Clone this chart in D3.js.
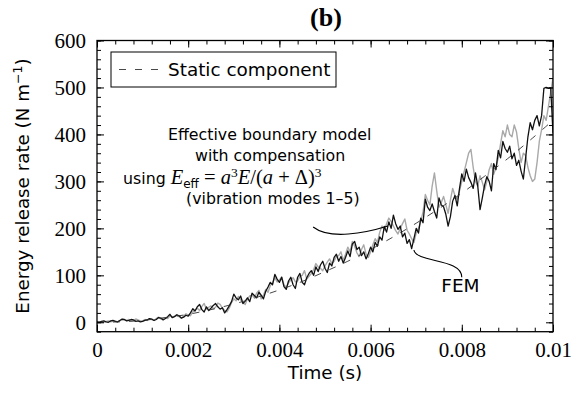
<!DOCTYPE html>
<html><head><meta charset="utf-8">
<script src="https://cdn.jsdelivr.net/npm/d3@7"></script>
<style>body{margin:0;background:#fff;} svg{display:block;}</style>
</head><body>
<svg id="chart" width="583" height="396"></svg>
<script>
// ---------------- data ----------------
const time = [
0,0.00005,0.0001,0.00015,0.0002,0.00025,0.0003,0.00035,0.0004,0.00045,
0.0005,0.00055,0.0006,0.00065,0.0007,0.00075,0.0008,0.00085,0.0009,0.00095,
0.001,0.00105,0.0011,0.00115,0.0012,0.00125,0.0013,0.00135,0.0014,0.00145,
0.0015,0.00155,0.0016,0.00165,0.0017,0.00175,0.0018,0.00185,0.0019,0.00195,
0.002,0.00205,0.0021,0.00215,0.0022,0.00225,0.0023,0.00235,0.0024,0.00245,
0.0025,0.00255,0.0026,0.00265,0.0027,0.00275,0.0028,0.00285,0.0029,0.00295,
0.003,0.00305,0.0031,0.00315,0.0032,0.00325,0.0033,0.00335,0.0034,0.00345,
0.0035,0.00355,0.0036,0.00365,0.0037,0.00375,0.0038,0.00385,0.0039,0.00395,
0.004,0.00405,0.0041,0.00415,0.0042,0.00425,0.0043,0.00435,0.0044,0.00445,
0.0045,0.00455,0.0046,0.00465,0.0047,0.00475,0.0048,0.00485,0.0049,0.00495,
0.005,0.00505,0.0051,0.00515,0.0052,0.00525,0.0053,0.00535,0.0054,0.00545,
0.0055,0.00555,0.0056,0.00565,0.0057,0.00575,0.0058,0.00585,0.0059,0.00595,
0.006,0.00605,0.0061,0.00615,0.0062,0.00625,0.0063,0.00635,0.0064,0.00645,
0.0065,0.00655,0.0066,0.00665,0.0067,0.00675,0.0068,0.00685,0.0069,0.00695,
0.007,0.00705,0.0071,0.00715,0.0072,0.00725,0.0073,0.00735,0.0074,0.00745,
0.0075,0.00755,0.0076,0.00765,0.0077,0.00775,0.0078,0.00785,0.0079,0.00795,
0.008,0.00805,0.0081,0.00815,0.0082,0.00825,0.0083,0.00835,0.0084,0.00845,
0.0085,0.00855,0.0086,0.00865,0.0087,0.00875,0.0088,0.00885,0.0089,0.00895,
0.009,0.00905,0.0091,0.00915,0.0092,0.00925,0.0093,0.00935,0.0094,0.00945,
0.0095,0.00955,0.0096,0.00965,0.0097,0.00975,0.0098,0.00985,0.0099,0.00995,
0.01];

// FEM (black)
const femValues = [
1,0,2,3,1,0,3,4,2,1, 4,7,6,3,4,6,5,2,3,1,
2,4,5,8,7,4,6,10,9,5, 8,12,17,10,12,16,14,9,11,15,
13,20,29,24,33,38,27,22,33,25, 30,36,40,33,28,31,20,27,35,44,
60,52,48,56,40,45,52,44,62,57, 52,64,58,50,66,75,85,80,102,92,
85,96,76,70,88,96,80,72,96,104, 85,80,95,104,110,100,118,108,122,130,
115,106,126,120,138,145,130,140,126,138, 152,140,167,172,155,160,142,150,135,146,
160,150,170,162,182,175,204,192,214,200, 228,210,198,205,182,190,168,176,157,178,
200,190,222,212,262,245,238,252,236,222, 265,250,246,230,205,225,258,270,248,285,
316,300,326,308,298,285,318,290,240,265, 292,310,300,280,338,325,366,350,385,370,
362,375,348,360,334,345,322,305,350,395, 425,410,430,440,418,440,498,500,498,499,
402];

// Effective boundary model with compensation (grey)
const modelValues = [
0,1,1,0,2,3,1,2,3,1, 3,5,5,4,6,3,4,7,5,3,
3,6,4,7,6,4,8,11,7,9, 10,8,14,11,13,16,12,9,13,18,
16,14,22,26,30,25,34,40,28,32, 35,29,32,41,38,30,25,22,30,42,
50,46,55,48,42,38,50,56,58,52, 62,68,50,58,70,64,78,84,95,86,
90,96,80,74,84,90,95,86,88,98, 100,110,92,98,104,112,125,118,115,110,
120,128,135,125,130,140,142,150,132,145, 160,150,172,162,148,140,155,165,145,138,
150,165,178,170,192,205,196,210,222,215, 205,195,188,200,210,220,196,188,178,170,
190,200,215,235,272,260,250,290,318,280, 245,255,268,250,232,260,285,270,262,280,
300,320,340,360,368,330,300,290,312,298, 282,300,325,338,315,330,350,380,408,395,
420,400,395,420,405,370,340,360,355,330, 312,300,305,340,385,410,440,430,460,490,
520];

// Static component (dashed)
const staticTime = [0,0.0005,0.001,0.0015,0.002,0.0025,0.003,0.0035,0.004,0.0045,
0.005,0.0055,0.006,0.0065,0.007,0.0075,0.008,0.0085,0.009,0.0095,0.01];
const staticValues = [0,1,4,10,17,27,39,53,69,87,108,130,155,182,211,242,275,311,348,388,430];

const xTicks = [0,0.002,0.004,0.006,0.008,0.01];
const xTickLabels = ["0","0.002","0.004","0.006","0.008","0.01"];
const yTicks = [0,100,200,300,400,500,600];
const yTickLabels = ["0","100","200","300","400","500","600"];

// annotation leader anchors (data units)
const leaderModel = [[0.00474,203],[0.00511,175],[0.00588,190],[0.00638,205]];
const leaderFem = [[0.00695,154],[0.0070,126],[0.0080,137],[0.0080,96]];

// ---------------- drawing ----------------
const svg = d3.select("#chart");
const sans = "'DejaVu Sans', sans-serif";
const serif = "'Liberation Serif', 'Times New Roman', serif";

const x = d3.scaleLinear().domain([0, 0.01]).range([97, 553]);
const y = d3.scaleLinear().domain([-20, 600]).range([331.7, 40.5]);

svg.append("rect").attr("width",583).attr("height",396).attr("fill","#fff");

svg.append("defs").append("clipPath").attr("id","clip")
  .append("rect").attr("x",97).attr("y",40.5).attr("width",456).attr("height",291.2);

const plot = svg.append("g").attr("clip-path","url(#clip)");
const line = d3.line().x(d => x(d[0])).y(d => y(d[1]));

plot.append("path")
  .datum(time.map((t,i)=>[t, modelValues[i]]))
  .attr("d", line).attr("fill","none").attr("stroke","#a9a9a9")
  .attr("stroke-width",1.4).attr("stroke-linejoin","round");

plot.append("path")
  .datum(time.map((t,i)=>[t, femValues[i]]))
  .attr("d", line).attr("fill","none").attr("stroke","#111")
  .attr("stroke-width",1.3).attr("stroke-linejoin","round");

plot.append("path")
  .datum(staticTime.map((t,i)=>[t, staticValues[i]]))
  .attr("d", line.curve(d3.curveCatmullRom)).attr("fill","none").attr("stroke","#333")
  .attr("stroke-width",0.9).attr("stroke-dasharray","7,9");

// axes (ticks inward on all four sides)
const minorX = d3.range(0, 0.01 + 1e-9, 0.0004);
const minorY = d3.range(-20, 600 + 1e-9, 20);

function addAxis(gen, tr, vals, size, fmt, pad) {
  const g = svg.append("g").attr("transform", tr)
    .call(gen.tickValues(vals).tickSizeInner(size).tickSizeOuter(0).tickPadding(pad||3).tickFormat(fmt || (()=>"")));
  g.select(".domain").remove();
  g.selectAll(".tick line").attr("stroke","#000").attr("stroke-width",1);
  return g;
}
addAxis(d3.axisBottom(x), "translate(0,331.7)", minorX, -4);
addAxis(d3.axisTop(x), "translate(0,40.5)", minorX, -4);
addAxis(d3.axisLeft(y), "translate(97,0)", minorY, -4);
addAxis(d3.axisRight(y), "translate(553,0)", minorY, -4);

const gxb = addAxis(d3.axisBottom(x), "translate(0,331.7)", xTicks, -7, (d,i)=>xTickLabels[i], 10);
addAxis(d3.axisTop(x), "translate(0,40.5)", xTicks, -7);
const gyl = addAxis(d3.axisLeft(y), "translate(97,0)", yTicks, -7, (d,i)=>yTickLabels[i], 11);
addAxis(d3.axisRight(y), "translate(553,0)", yTicks, -7);
[gxb, gyl].forEach(g => g.selectAll("text").attr("font-family", serif).attr("font-size", 21).attr("fill","#000"));

// frame
svg.append("rect").attr("x",97).attr("y",40.5).attr("width",456).attr("height",291.2)
  .attr("fill","none").attr("stroke","#000").attr("stroke-width",1.3);

// title
svg.append("text").attr("x",326).attr("y",26).attr("text-anchor","middle")
  .attr("font-family",serif).attr("font-weight","bold").attr("font-size",26).text("(b)");

// axis titles
svg.append("text").attr("x",325).attr("y",379).attr("text-anchor","middle")
  .attr("font-family",sans).attr("font-size",18.3).text("Time (s)");

const yl = svg.append("text").attr("transform","translate(29,186) rotate(-90)")
  .attr("text-anchor","middle").attr("font-family",sans).attr("font-size",18.3);
yl.append("tspan").text("Energy release rate (N m");
yl.append("tspan").attr("font-size",12.5).attr("dy",-7).text("\u22121");
yl.append("tspan").attr("dy",7).text(")");

// legend
svg.append("rect").attr("x",111).attr("y",52).attr("width",225).attr("height",35)
  .attr("fill","#fff").attr("stroke","#000").attr("stroke-width",1);
svg.append("line").attr("x1",119).attr("x2",158).attr("y1",69.5).attr("y2",69.5)
  .attr("stroke","#333").attr("stroke-width",0.9).attr("stroke-dasharray","7,9");
svg.append("text").attr("x",168).attr("y",76).attr("font-family",sans).attr("font-size",18.4)
  .text("Static component");

// annotation text
const ann = svg.append("g").attr("font-family",sans).attr("font-size",15.8).attr("fill","#000");
ann.append("text").attr("x",168).attr("y",139.5).text("Effective boundary model");
ann.append("text").attr("x",195).attr("y",160.5).text("with compensation");
const m = ann.append("text").attr("x",123).attr("y",184);
const mf = 20.5, sf = 13.5;
m.append("tspan").text("using ");
m.append("tspan").attr("font-family",serif).attr("font-style","italic").attr("font-size",mf).text("E");
m.append("tspan").attr("font-size",12).attr("dy",3.5).text("eff");
m.append("tspan").attr("font-family",serif).attr("font-size",mf).attr("dy",-3.5).text(" = ");
m.append("tspan").attr("font-family",serif).attr("font-style","italic").attr("font-size",mf).text("a");
m.append("tspan").attr("font-family",serif).attr("font-size",sf).attr("dy",-7).text("3");
m.append("tspan").attr("font-family",serif).attr("font-style","italic").attr("font-size",mf).attr("dy",7).text("E");
m.append("tspan").attr("font-family",serif).attr("font-size",mf).text("/(");
m.append("tspan").attr("font-family",serif).attr("font-style","italic").attr("font-size",mf).text("a");
m.append("tspan").attr("font-family",serif).attr("font-size",mf).text(" + \u0394)");
m.append("tspan").attr("font-family",serif).attr("font-size",sf).attr("dy",-7).text("3");
ann.append("text").attr("x",186).attr("y",204).text("(vibration modes 1\u20135)");

// leader curves
function bez(p) {
  const q = p.map(d => [x(d[0]), y(d[1])]);
  return `M${q[0]}C${q[1]} ${q[2]} ${q[3]}`;
}
svg.append("path").attr("d", bez(leaderModel)).attr("fill","none").attr("stroke","#000").attr("stroke-width",1.1);
svg.append("path").attr("d", bez(leaderFem)).attr("fill","none").attr("stroke","#000").attr("stroke-width",1.1);
svg.append("text").attr("x", x(0.00755)).attr("y", y(64)).attr("font-family",sans).attr("font-size",18.5).text("FEM");
</script>
</body></html>
